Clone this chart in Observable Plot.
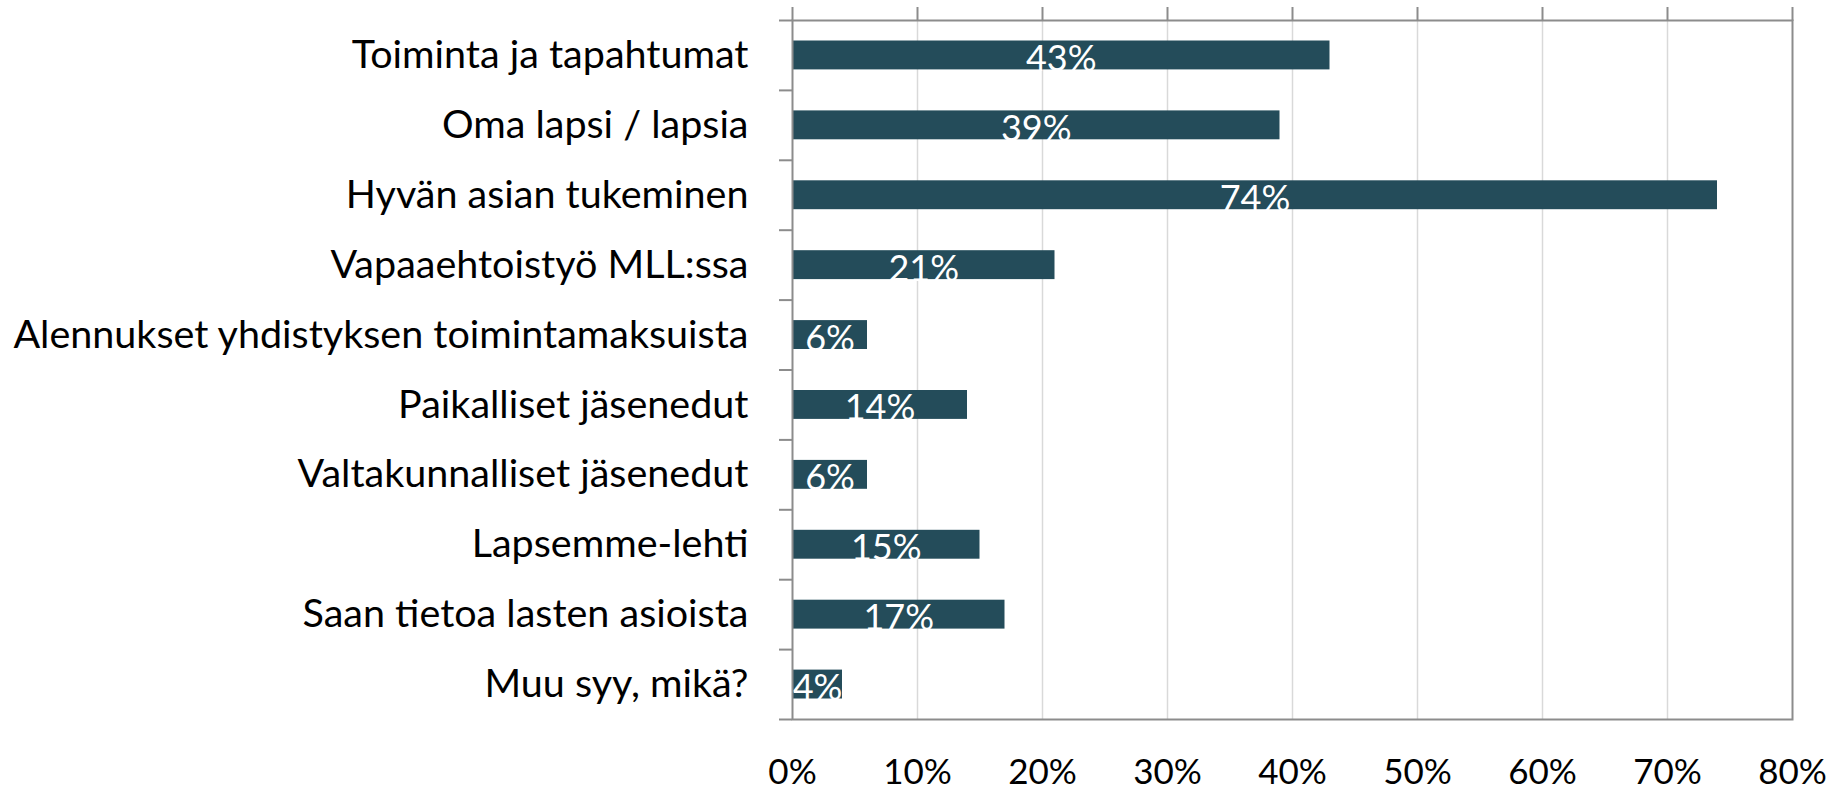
<!DOCTYPE html>
<html>
<head>
<meta charset="utf-8">
<script src="https://cdn.jsdelivr.net/npm/d3@7"></script>
<script src="https://cdn.jsdelivr.net/npm/@observablehq/plot@0.6"></script>
<style>
  html, body { margin: 0; padding: 0; background: #fff; }
</style>
</head>
<body>
<div id="chart"></div>
<script>
const categories = [
  "Toiminta ja tapahtumat",
  "Oma lapsi / lapsia",
  "Hyvän asian tukeminen",
  "Vapaaehtoistyö MLL:ssa",
  "Alennukset yhdistyksen toimintamaksuista",
  "Paikalliset jäsenedut",
  "Valtakunnalliset jäsenedut",
  "Lapsemme-lehti",
  "Saan tietoa lasten asioista",
  "Muu syy, mikä?"
];
const values = [43, 39, 74, 21, 6, 14, 6, 15, 17, 4];
const xTicks = [0, 10, 20, 30, 40, 50, 60, 70, 80];

const data = categories.map((c, i) => ({category: c, value: values[i], index: i}));
const boundaryTicks = d3.range(0, categories.length + 1);
const centerTicks = categories.map((c, i) => i + 0.5);

const axisGray = "#8c8c8c";
const font = "Lato, 'Open Sans', sans-serif";

const chart = Plot.plot({
  width: 1834,
  height: 792,
  marginLeft: 792,
  marginRight: 42,
  marginTop: 20,
  marginBottom: 73,
  style: {fontFamily: font, background: "#fff", color: "#000"},
  x: {domain: [0, 80]},
  y: {domain: [0, categories.length], reverse: true},
  marks: [
    Plot.gridX(xTicks.slice(1, -1), {stroke: "#d9d9d9", strokeOpacity: 1, strokeWidth: 1.5}),
    Plot.rectX(data, {
      x1: 0, x2: "value",
      y1: "index", y2: d => d.index + 1,
      insetTop: 20.5, insetBottom: 20.5,
      fill: "#244c5a"
    }),
    Plot.text(data, {
      x: d => d.value / 2,
      y: d => d.index + 0.5,
      text: d => d.value + "%",
      fill: "#fff",
      fontSize: 36,
      dy: 4
    }),
    Plot.frame({stroke: axisGray, strokeWidth: 2}),
    Plot.axisX({anchor: "top", ticks: xTicks, tickSize: 14, tickFormat: () => "", label: null, stroke: axisGray, strokeWidth: 2}),
    Plot.axisX({anchor: "bottom", ticks: xTicks, tickSize: 0, tickPadding: 40, tickFormat: d => d + "%", fontSize: 35, fill: "#000", label: null}),
    Plot.axisY({anchor: "left", ticks: boundaryTicks, tickSize: 13, tickFormat: () => "", label: null, stroke: axisGray, strokeWidth: 2}),
    Plot.axisY({anchor: "left", ticks: centerTicks, tickSize: 0, tickPadding: 44, tickFormat: t => categories[Math.floor(t)], fontSize: 39.5, fill: "#000", label: null})
  ]
});
document.getElementById("chart").appendChild(chart);
</script>
</body>
</html>
